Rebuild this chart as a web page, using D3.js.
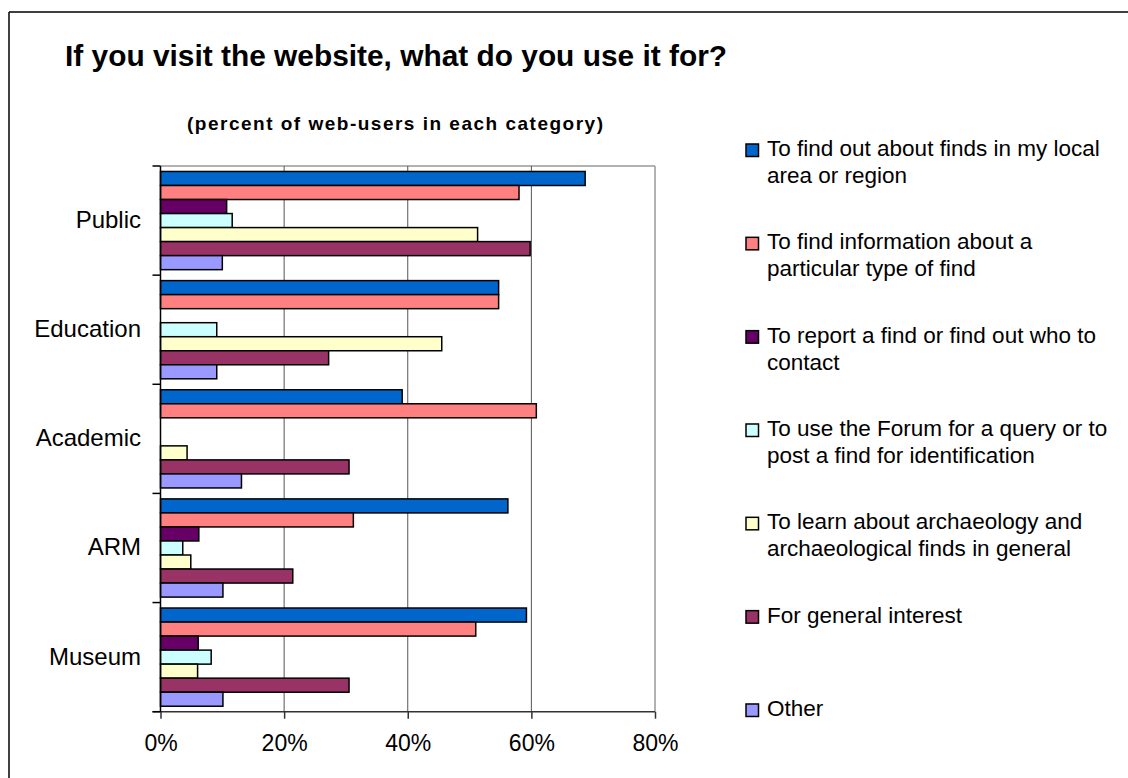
<!DOCTYPE html>
<html>
<head>
<meta charset="utf-8">
<script src="https://cdn.jsdelivr.net/npm/d3@7/dist/d3.min.js"></script>
<style>
  html, body { margin: 0; padding: 0; background: #fff; }
  svg { display: block; font-family: "Liberation Sans", Arial, sans-serif; }
</style>
</head>
<body>
<svg id="chart" width="1128" height="778"></svg>
<script>
// ---- Data ----
const categories = ["Public", "Education", "Academic", "ARM", "Museum"];
const seriesNames = [
  "To find out about finds in my local area or region",
  "To find information about a particular type of find",
  "To report a find or find out who to contact",
  "To use the Forum for a query or to post a find for identification",
  "To learn about archaeology and archaeological finds in general",
  "For general interest",
  "Other"
];
const legendLines = [
  ["To find out about finds in my local", "area or region"],
  ["To find information about a", "particular type of find"],
  ["To report a find or find out who to", "contact"],
  ["To use the Forum for a query or to", "post a find for identification"],
  ["To learn about archaeology and", "archaeological finds in general"],
  ["For general interest"],
  ["Other"]
];
// values in percent, per series, in category order
const localArea    = [68.7, 54.7, 39.1, 56.2, 59.2];
const findType     = [58.0, 54.7, 60.8, 31.2, 51.0];
const reportFind   = [10.7, 0,    0,    6.2,  6.1];
const forumQuery   = [11.6, 9.1,  0,    3.6,  8.2];
const learnArch    = [51.3, 45.5, 4.3,  4.9,  6.0];
const generalInt   = [59.8, 27.2, 30.5, 21.4, 30.5];
const otherUse     = [10.0, 9.1,  13.1, 10.1, 10.1];
const seriesValues = [localArea, findType, reportFind, forumQuery, learnArch, generalInt, otherUse];
const colors = ["#0066CC", "#FF8080", "#660066", "#CCFFFF", "#FFFFCC", "#993366", "#9999FF"];
const xTicks = [0, 20, 40, 60, 80];

// ---- Layout ----
const svg = d3.select("#chart");
const pLeft = 160.5, pRight = 655, pTop = 166, pBottom = 711.7;

const x = d3.scaleLinear().domain([0, 80]).range([pLeft, pRight]);
const y0 = d3.scaleBand().domain(categories).range([pTop, pBottom]).paddingInner(0).paddingOuter(0);
const y1 = d3.scaleBand().domain(d3.range(seriesNames.length)).range([0, y0.bandwidth()])
  .paddingInner(0).paddingOuter(0.39);

// outer frame (top + left)
svg.append("line").attr("x1", 9).attr("x2", 1128).attr("y1", 12).attr("y2", 12)
  .attr("stroke", "#000").attr("stroke-width", 1.5);
svg.append("line").attr("x1", 9).attr("x2", 9).attr("y1", 12).attr("y2", 778)
  .attr("stroke", "#000").attr("stroke-width", 1.5);

// title
svg.append("text").attr("x", 65).attr("y", 66)
  .attr("font-size", 29).attr("font-weight", "bold").attr("fill", "#000")
  .attr("textLength", 662).attr("lengthAdjust", "spacingAndGlyphs")
  .text("If you visit the website, what do you use it for?");
svg.append("text").attr("x", 187).attr("y", 130)
  .attr("font-size", 19).attr("font-weight", "bold").attr("fill", "#000")
  .attr("textLength", 416).attr("lengthAdjust", "spacing")
  .text("(percent of web-users in each category)");

// plot border (top, right) gray
svg.append("line").attr("x1", pLeft).attr("x2", pRight).attr("y1", pTop).attr("y2", pTop)
  .attr("stroke", "#999").attr("stroke-width", 1.5);
svg.append("line").attr("x1", pRight).attr("x2", pRight).attr("y1", pTop).attr("y2", pBottom)
  .attr("stroke", "#999").attr("stroke-width", 1.5);

// gridlines
svg.append("g").selectAll("line").data(xTicks.filter(d => d > 0 && d < 80)).join("line")
  .attr("x1", d => x(d)).attr("x2", d => x(d)).attr("y1", pTop).attr("y2", pBottom)
  .attr("stroke", "#555").attr("stroke-width", 1);

// bars
const groups = svg.append("g").selectAll("g").data(categories).join("g")
  .attr("transform", c => `translate(0,${y0(c)})`);
groups.each(function(c, ci) {
  const rows = seriesValues.map((vals, si) => ({ si, v: vals[ci] })).filter(d => d.v > 0);
  d3.select(this).selectAll("rect").data(rows).join("rect")
    .attr("x", x(0))
    .attr("y", d => y1(d.si))
    .attr("width", d => x(d.v) - x(0))
    .attr("height", y1.bandwidth())
    .attr("fill", d => colors[d.si])
    .attr("stroke", "#000").attr("stroke-width", 1.5);
});

// x axis
const xAxis = d3.axisBottom(x).tickValues(xTicks).tickFormat(d => d + "%").tickSize(7).tickPadding(16);
const gx = svg.append("g").attr("transform", `translate(0,${pBottom})`).call(xAxis);
gx.select(".domain").attr("stroke", "#333").attr("stroke-width", 1.5).attr("d", `M${pLeft - 8},0H${pRight}`);
gx.selectAll(".tick line").attr("stroke", "#333").attr("stroke-width", 1.5);
gx.selectAll(".tick text").attr("font-size", 23).attr("fill", "#000")
  .attr("font-family", "'Liberation Sans', Arial, sans-serif");

// y axis (ticks at band boundaries)
svg.append("line").attr("x1", pLeft).attr("x2", pLeft).attr("y1", pTop).attr("y2", pBottom)
  .attr("stroke", "#000").attr("stroke-width", 1.5);
const boundaries = categories.map(c => y0(c)).concat([pBottom]);
svg.append("g").selectAll("line").data(boundaries).join("line")
  .attr("x1", pLeft - 8).attr("x2", pLeft).attr("y1", d => d).attr("y2", d => d)
  .attr("stroke", "#000").attr("stroke-width", 1.5);
svg.append("g").selectAll("text").data(categories).join("text")
  .attr("x", 141).attr("y", c => y0(c) + y0.bandwidth() / 2 + 7.5)
  .attr("text-anchor", "end").attr("font-size", 24).attr("fill", "#000")
  .text(c => c);

// legend
const legend = svg.append("g").selectAll("g").data(legendLines).join("g")
  .attr("transform", (d, i) => `translate(0,${156 + i * 93.33})`);
legend.append("rect").attr("x", 746).attr("y", -12).attr("width", 12.5).attr("height", 12.5)
  .attr("fill", (d, i) => colors[i]).attr("stroke", "#000").attr("stroke-width", 1.5);
legend.each(function(lines) {
  d3.select(this).selectAll("text").data(lines).join("text")
    .attr("x", 767).attr("y", (l, j) => j * 27)
    .attr("font-size", 22.5).attr("fill", "#000")
    .text(l => l);
});
</script>
</body>
</html>
